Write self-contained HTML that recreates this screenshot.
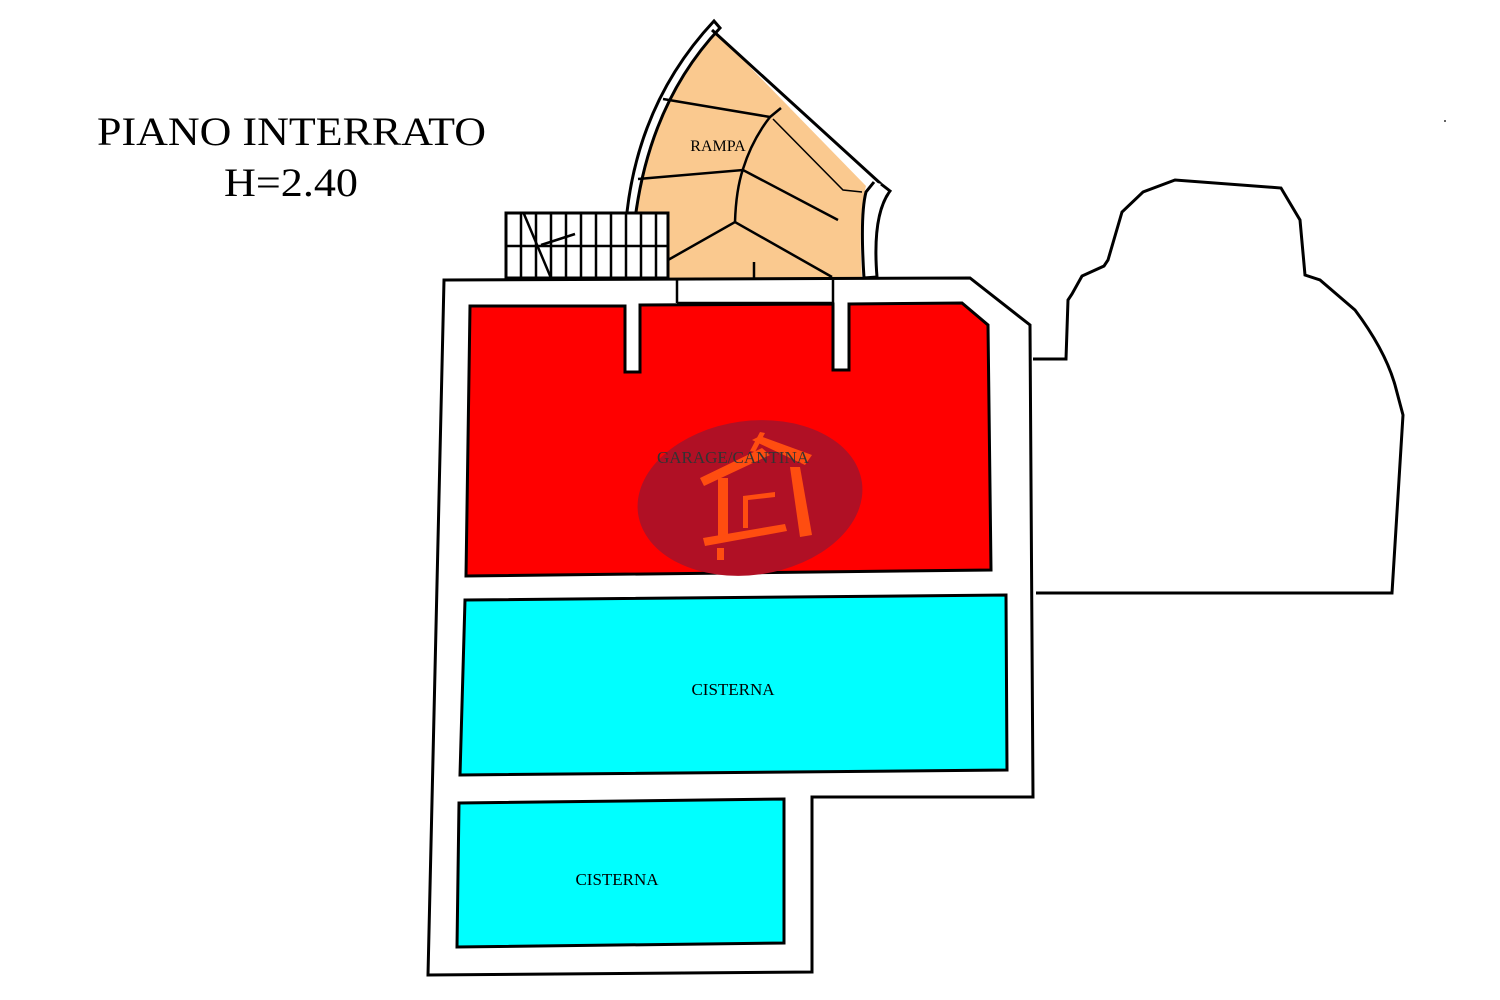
<!DOCTYPE html>
<html><head><meta charset="utf-8"><style>
html,body{margin:0;padding:0;background:#fff;width:1500px;height:1000px;overflow:hidden}
svg{display:block}
text{font-family:"Liberation Serif",serif}
</style></head><body>
<svg width="1500" height="1000" viewBox="0 0 1500 1000" xmlns="http://www.w3.org/2000/svg">
<text x="97" y="145" font-size="40" textLength="389" lengthAdjust="spacingAndGlyphs" fill="#000">PIANO INTERRATO</text>
<text x="224" y="196" font-size="40" textLength="134" lengthAdjust="spacingAndGlyphs" fill="#000">H=2.40</text>
<circle cx="1445" cy="121" r="1" fill="#333"/>

<!-- right blob -->
<path d="M1033,359 L1066,359 L1068,300 L1072,294 L1082,276 L1104,266 L1108,260 L1122,212 L1143,192 L1175,180 L1281,188 L1300,220 L1305,275 L1320,280 L1355,310 Q1385,350 1395,385 L1403,415 L1392,593 L1036,593" fill="none" stroke="#000" stroke-width="3"/>

<!-- ramp -->
<path d="M636,213 Q652,100 712,28 L866,186 Q858,215 862,278 L668,278 L668,213 Z" fill="#fac98f"/>
<path d="M627,212 Q640,100 714,21 L720,28 Q652,100 636,212" fill="#fff" stroke="#000" stroke-width="3"/>
<path d="M712,30 L881,184" fill="none" stroke="#000" stroke-width="3"/>
<path d="M881,184 L890,191 Q872,215 877,277 L864,278 Q860,215 866,192 L874,182" fill="#fff" stroke="#000" stroke-width="3"/>
<g fill="none" stroke="#000" stroke-width="2.5">
<path d="M663,99 L770,117 L781,108"/>
<path d="M770,117 Q752,140 743,169 Q736,190 735,222"/>
<path d="M638,179 L743,170 L838,220"/>
<path d="M668,260 L735,222 L832,277"/>
<path d="M754,262 L754,322"/>
</g>
<path d="M773,119 L843,190 L862,192" fill="none" stroke="#000" stroke-width="1.5"/>
<text x="718" y="151" font-size="16" text-anchor="middle">RAMPA</text>

<!-- stairs -->
<rect x="506" y="213" width="162" height="65" fill="#fff" stroke="#000" stroke-width="3"/>
<g stroke="#000" stroke-width="2.5">
<line x1="506" y1="246" x2="668" y2="246"/>
<line x1="521" y1="213" x2="521" y2="278"/><line x1="536" y1="213" x2="536" y2="278"/>
<line x1="551" y1="213" x2="551" y2="278"/><line x1="566" y1="213" x2="566" y2="278"/>
<line x1="581" y1="213" x2="581" y2="278"/><line x1="596" y1="213" x2="596" y2="278"/>
<line x1="611" y1="213" x2="611" y2="278"/><line x1="626" y1="213" x2="626" y2="278"/>
<line x1="641" y1="213" x2="641" y2="278"/><line x1="656" y1="213" x2="656" y2="278"/>
<line x1="524" y1="214" x2="551" y2="278"/>
<line x1="541" y1="245" x2="575" y2="234"/>
</g>

<!-- outer building -->
<path d="M444,280 L970,278 L1030,325 L1033,797 L812,797 L812,972 L428,975 Z" fill="#fff" stroke="#000" stroke-width="3"/>
<line x1="677" y1="280" x2="677" y2="303" stroke="#000" stroke-width="2.5"/>
<line x1="833" y1="280" x2="833" y2="304" stroke="#000" stroke-width="2.5"/>
<line x1="677" y1="303" x2="833" y2="303" stroke="#000" stroke-width="2.5"/>

<!-- red room -->
<path d="M470,306 L625,306 L625,372 L640,372 L640,305 L833,304 L833,370 L849,370 L849,304 L962,303 L988,325 L991,570 L466,576 Z" fill="#ff0000" stroke="#000" stroke-width="3"/>
<ellipse cx="750" cy="498" rx="113" ry="77" transform="rotate(-8 750 498)" fill="#b01025"/>
<g fill="#ff4d10">
<polygon points="700,478 762,448 770,455 704,486"/>
<polygon points="752,440 805,465 812,455 760,436"/>
<polygon points="760,432 765,433 755,452 750,451"/>
<polygon points="718,478 728,478 728,538 718,540"/>
<polygon points="743,496 775,492 775,497 748,500 748,528 743,528"/>
<polygon points="790,467 800,467 812,535 800,537"/>
<polygon points="703,538 785,524 787,531 705,546"/>
<polygon points="717,548 724,548 724,560 717,560"/>
</g>
<text x="733" y="463" font-size="17" text-anchor="middle" fill="#333">GARAGE/CANTINA</text>

<!-- cisterna 1 -->
<path d="M465,600 L1006,595 L1007,770 L460,775 Z" fill="#00ffff" stroke="#000" stroke-width="3"/>
<text x="733" y="695" font-size="17" text-anchor="middle">CISTERNA</text>
<!-- cisterna 2 -->
<path d="M459,803 L784,799 L784,943 L457,947 Z" fill="#00ffff" stroke="#000" stroke-width="3"/>
<text x="617" y="885" font-size="17" text-anchor="middle">CISTERNA</text>
</svg>
</body></html>
